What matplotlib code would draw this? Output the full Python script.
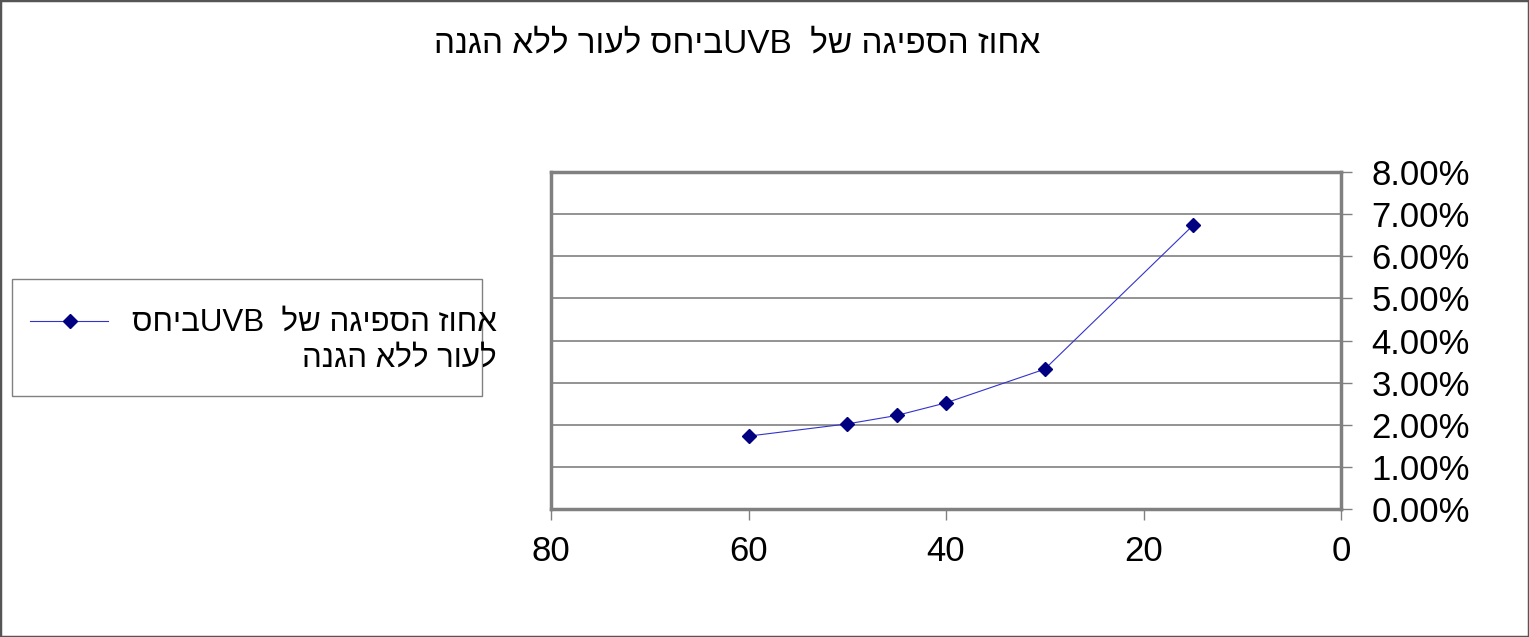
import re
import matplotlib
matplotlib.use('Agg')
import matplotlib.pyplot as plt
from matplotlib.patches import Rectangle
from matplotlib.lines import Line2D
from matplotlib.ticker import FuncFormatter

plt.rcParams['font.family'] = ['Liberation Sans', 'DejaVu Sans']

# data
age = [60, 50, 45, 40, 30, 15]
absorb = [0.0173, 0.0202, 0.0222, 0.0252, 0.0332, 0.0673]
title = 'אחוז הספיגה של  UVBביחס לעור ללא הגנה'
label_lines = ['אחוז הספיגה של  UVBביחס', 'לעור ללא הגנה']

W, H = 1529, 637


def rtl(s):
    # matplotlib has no bidi: reverse, then put latin runs back in order
    r = s[::-1]
    return re.sub(r'[A-Za-z0-9]+', lambda m: m.group(0)[::-1], r)


fig = plt.figure(figsize=(W/100, H/100), dpi=100)
ax = fig.add_axes([551/W, 1-509/H, 790/W, 337/H])

line_style = dict(color='#3333cc', lw=0.8, marker='D', ms=7,
                  mfc='#000080', mec='#000080')
ax.plot(age, absorb, zorder=3, **line_style)

ax.set_xlim(80, 0)
ax.set_ylim(0, 0.08)
ax.set_xticks([80, 60, 40, 20, 0])
ax.set_yticks([i/100 for i in range(9)])
ax.yaxis.set_major_formatter(FuncFormatter(lambda v, p: '%.2f%%' % (v*100)))
ax.yaxis.tick_right()
ax.tick_params(axis='both', labelsize=25, direction='out', length=8,
               width=1, color='#808080')
ax.tick_params(axis='y', pad=14)
ax.tick_params(axis='x', pad=11)
ax.grid(axis='y', color='#808080', lw=1.2)
for s in ax.spines.values():
    s.set_color('#808080')
    s.set_linewidth(2.5)

fig.text(737/W, 1-44/H, rtl(title), fontsize=24, ha='center', va='center')

# legend box, drawn by hand (text runs past the frame as in the original)
fig.patches.append(Rectangle((12/W, 1-396/H), 470/W, 117/H,
                             transform=fig.transFigure, fill=False,
                             edgecolor='#808080', lw=1))
fig.add_artist(Line2D([30/W, 70/W, 108/W], [1-321/H]*3, markevery=[1],
                      transform=fig.transFigure, **line_style))
fig.text(497/W, 1-341/H, '\n'.join(rtl(l) for l in label_lines),
         fontsize=22.5, ha='right', va='center', multialignment='right',
         linespacing=1.25)

fig.patches.append(Rectangle((0, 0), 1, 1, transform=fig.transFigure,
                             fill=False, edgecolor='#555555', lw=2.5))

fig.savefig('out.png', dpi=100)
